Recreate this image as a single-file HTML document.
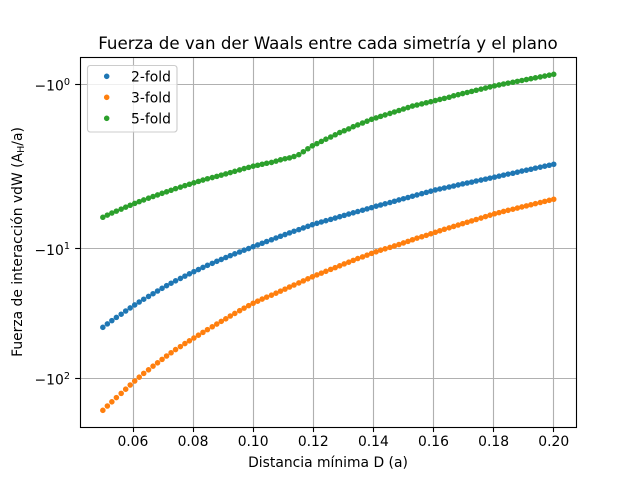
<!DOCTYPE html>
<html>
<head>
<meta charset="utf-8">
<title>Fuerza de van der Waals</title>
<style>
html,body{margin:0;padding:0;background:#fff;width:640px;height:480px;overflow:hidden}
svg{display:block}
text{font-family:"DejaVu Sans","Liberation Sans",sans-serif;fill:#000}
</style>
</head>
<body>
<svg id="chart" width="640" height="480" viewBox="0 0 640 480" xmlns="http://www.w3.org/2000/svg">
  <rect x="0" y="0" width="640" height="480" fill="#fff"/>
  <rect x="80" y="57.6" width="496" height="369.6" fill="#fff"/>
  <g id="grid"></g>
  <g id="series"></g>
  <g id="ticks"></g>
  <rect x="80.5" y="57.5" width="496" height="370" fill="none" stroke="#000" stroke-width="1.11"/>
  <text x="328" y="49" text-anchor="middle" font-size="16.67">Fuerza de van der Waals entre cada simetría y el plano</text>
  <text x="328" y="467" text-anchor="middle" font-size="13.89">Distancia mínima D (a)</text>
  <text transform="translate(22,242) rotate(-90)" text-anchor="middle" font-size="13.89">Fuerza de interacción vdW (A<tspan font-size="9.7" dy="2.1">H</tspan><tspan dy="-2.1">/a)</tspan></text>
  <g>
    <rect x="87.5" y="65.5" width="89.5" height="66.5" rx="2.8" ry="2.8" fill="#fff" fill-opacity="0.8" stroke="#cccccc" stroke-width="1.11"/>
    <g>
      <circle cx="106.7" cy="76.3" r="2.08" fill="#1f77b4" stroke="#1f77b4" stroke-width="1.39"/>
      <text x="131" y="81.3" font-size="13.89">2-fold</text>
    </g>
    <g>
      <circle cx="106.7" cy="97.3" r="2.08" fill="#ff7f0e" stroke="#ff7f0e" stroke-width="1.39"/>
      <text x="131" y="102.3" font-size="13.89">3-fold</text>
    </g>
    <g>
      <circle cx="106.7" cy="118.3" r="2.08" fill="#2ca02c" stroke="#2ca02c" stroke-width="1.39"/>
      <text x="131" y="123.3" font-size="13.89">5-fold</text>
    </g>
  </g>
</svg>
<script>
const distanceValues = [0.0500,0.0515,0.0530,0.0545,0.0561,0.0576,0.0591,0.0606,0.0621,0.0636,
0.0652,0.0667,0.0682,0.0697,0.0712,0.0727,0.0742,0.0758,0.0773,0.0788,
0.0803,0.0818,0.0833,0.0848,0.0864,0.0879,0.0894,0.0909,0.0924,0.0939,
0.0955,0.0970,0.0985,0.1000,0.1015,0.1030,0.1045,0.1061,0.1076,0.1091,
0.1106,0.1121,0.1136,0.1152,0.1167,0.1182,0.1197,0.1212,0.1227,0.1242,
0.1258,0.1273,0.1288,0.1303,0.1318,0.1333,0.1348,0.1364,0.1379,0.1394,
0.1409,0.1424,0.1439,0.1455,0.1470,0.1485,0.1500,0.1515,0.1530,0.1545,
0.1561,0.1576,0.1591,0.1606,0.1621,0.1636,0.1652,0.1667,0.1682,0.1697,
0.1712,0.1727,0.1742,0.1758,0.1773,0.1788,0.1803,0.1818,0.1833,0.1848,
0.1864,0.1879,0.1894,0.1909,0.1924,0.1939,0.1955,0.1970,0.1985,0.2000];

const force2Fold = [-40.7,-38.3,-36.13,-34.13,-32.25,-30.47,-28.84,-27.34,-25.97,-24.71,
-23.51,-22.41,-21.36,-20.36,-19.44,-18.6,-17.82,-17.08,-16.4,-15.74,
-15.14,-14.59,-14.05,-13.54,-13.07,-12.61,-12.19,-11.79,-11.4,-11.04,
-10.69,-10.35,-10.05,-9.72,-9.43,-9.15,-8.87,-8.6,-8.33,-8.08,
-7.84,-7.61,-7.39,-7.18,-6.97,-6.77,-6.58,-6.42,-6.27,-6.13,
-5.99,-5.85,-5.71,-5.58,-5.45,-5.33,-5.21,-5.09,-4.97,-4.86,
-4.74,-4.64,-4.54,-4.44,-4.34,-4.24,-4.15,-4.06,-3.97,-3.88,
-3.79,-3.71,-3.63,-3.55,-3.49,-3.43,-3.37,-3.31,-3.25,-3.19,
-3.14,-3.09,-3.03,-2.98,-2.93,-2.88,-2.83,-2.78,-2.73,-2.68,
-2.64,-2.59,-2.54,-2.50,-2.46,-2.41,-2.37,-2.33,-2.29,-2.25];

const force3Fold = [-177.6,-164.5,-152.7,-141.7,-131.5,-122.1,-113.3,-105.5,-98.6,-92.2,
-86.5,-81.1,-76.4,-71.9,-67.7,-63.9,-60.4,-57.3,-54.3,-51.7,
-49.2,-46.8,-44.5,-42.4,-40.3,-38.4,-36.6,-35.0,-33.3,-31.8,
-30.3,-28.95,-27.7,-26.55,-25.6,-24.65,-23.8,-23.0,-22.2,-21.4,
-20.65,-19.9,-19.2,-18.5,-17.85,-17.2,-16.6,-16.05,-15.55,-15.05,
-14.55,-14.1,-13.65,-13.2,-12.8,-12.4,-12.0,-11.65,-11.3,-10.95,
-10.65,-10.35,-10.1,-9.85,-9.6,-9.35,-9.1,-8.85,-8.6,-8.35,
-8.15,-7.95,-7.73,-7.53,-7.33,-7.14,-6.96,-6.79,-6.62,-6.46,
-6.30,-6.15,-6.00,-5.85,-5.70,-5.56,-5.42,-5.31,-5.20,-5.10,
-5.00,-4.90,-4.80,-4.71,-4.62,-4.53,-4.44,-4.35,-4.27,-4.19];

const force5Fold = [-5.77,-5.55,-5.35,-5.17,-4.99,-4.82,-4.66,-4.51,-4.37,-4.24,
-4.11,-3.99,-3.88,-3.77,-3.67,-3.57,-3.47,-3.38,-3.29,-3.21,
-3.13,-3.05,-2.98,-2.91,-2.85,-2.79,-2.73,-2.67,-2.61,-2.55,
-2.49,-2.43,-2.38,-2.33,-2.29,-2.25,-2.21,-2.18,-2.13,-2.08,
-2.04,-2.01,-1.985,-1.96,-1.92,-1.88,-1.84,-1.81,-1.78,-1.75,
-1.72,-1.69,-1.66,-1.635,-1.61,-1.58,-1.555,-1.53,-1.505,-1.48,
-1.46,-1.44,-1.42,-1.40,-1.38,-1.36,-1.34,-1.32,-1.30,-1.285,
-1.27,-1.255,-1.24,-1.225,-1.21,-1.195,-1.18,-1.16,-1.145,-1.13,
-1.115,-1.10,-1.085,-1.07,-1.055,-1.04,-1.025,-1.013,-1.00,-0.988,
-0.976,-0.964,-0.952,-0.94,-0.928,-0.916,-0.904,-0.892,-0.88,-0.868];

const xTickValues = [0.06,0.08,0.10,0.12,0.14,0.16,0.18,0.20];
const xTickLabels = ["0.06","0.08","0.10","0.12","0.14","0.16","0.18","0.20"];
const yTickValues = [-1,-10,-100];
const yTickExponents = ["0","1","2"];

const SVG_NS = "http://www.w3.org/2000/svg";

function xScale(v) {
  return 80 + (v - 0.0425) * (496 / 0.165);
}

function symlogTransform(v) {
  const thresh = 2, linAdj = 1.135;
  const m = Math.abs(v);
  const t = m <= thresh ? m * linAdj : thresh * (linAdj + Math.log10(m / thresh));
  return v < 0 ? -t : t;
}

function yScale(v) {
  return 84 + (symlogTransform(-1) - symlogTransform(v)) * 64.85;
}

function snap(p) {
  return Math.floor(p + 0.5) + 0.5;
}

function make(tag, attrs, parent) {
  const el = document.createElementNS(SVG_NS, tag);
  for (const k in attrs) el.setAttribute(k, attrs[k]);
  parent.appendChild(el);
  return el;
}

const gridG = document.getElementById("grid");
const ticksG = document.getElementById("ticks");
const seriesG = document.getElementById("series");

xTickValues.forEach(function (v, i) {
  const x = xScale(v);
  const sx = snap(x);
  const gl = make("line", {x1: sx, x2: sx, y1: 57.6, y2: 427.2, stroke: "#b0b0b0", "stroke-width": 1.11}, gridG);
  
  
  const tk = make("line", {x1: sx, x2: sx, y1: 427.2, y2: 432.06, stroke: "#000", "stroke-width": 1.11}, ticksG);
  
  
  const lb = make("text", {x: x + 0.3, y: 446, "text-anchor": "middle", "font-size": 13.89}, ticksG);
  lb.textContent = xTickLabels[i];
  
  
});

yTickValues.forEach(function (v, i) {
  const y = yScale(v);
  const sy = snap(y);
  const gl = make("line", {x1: 80, x2: 576, y1: sy, y2: sy, stroke: "#b0b0b0", "stroke-width": 1.11}, gridG);
  
  
  const tk = make("line", {x1: 75.14, x2: 80, y1: sy, y2: sy, stroke: "#000", "stroke-width": 1.11}, ticksG);
  
  
  const lb = make("text", {x: 70, y: y + 6.5, "text-anchor": "end", "font-size": 13.89}, ticksG);
  
  
  const base = make("tspan", {}, lb);
  base.textContent = "\u221210";
  const sup = make("tspan", {"font-size": 9.7, dy: -5.6}, lb);
  sup.textContent = yTickExponents[i];
});

function drawSeries(values, color, name) {
  const g = make("g", {fill: color, stroke: color, "stroke-width": 1.39}, seriesG);
  
  
  values.forEach(function (v, i) {
    const c = make("circle", {cx: xScale(distanceValues[i]) + 0.3, cy: yScale(v), r: 2.08}, g);
    
    
  });
}

drawSeries(force2Fold, "#1f77b4", "series-2-fold");
drawSeries(force3Fold, "#ff7f0e", "series-3-fold");
drawSeries(force5Fold, "#2ca02c", "series-5-fold");
</script>
</body>
</html>
